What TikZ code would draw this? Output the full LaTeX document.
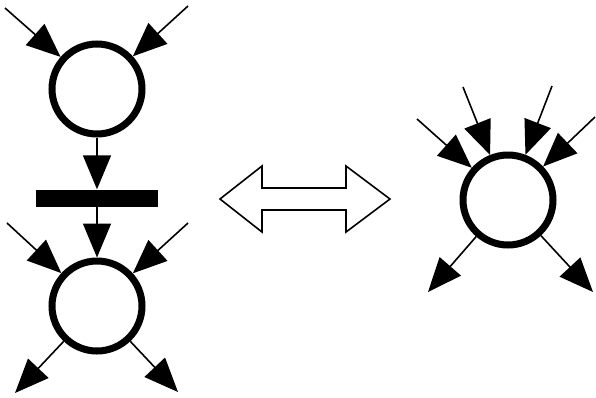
\documentclass[tikz,border=0pt]{standalone}
\usetikzlibrary{arrows.meta}
\tikzset{
  place/.style={circle, draw, line width=7pt, minimum size=90pt, inner sep=0pt, fill=white},
  bar/.style={fill=black, minimum width=122pt, minimum height=17pt, inner sep=0pt},
  arc/.style={line width=1.6pt, -{Triangle[length=34pt,width=28pt]}},
}
\begin{document}
\begin{tikzpicture}[x=1pt,y=-1pt]
\useasboundingbox (0,0) rectangle (596,397);

% Left net: place, transition, place
\node[place] (pin) at (97,89) {};
\node[bar] (tr) at (97,198) {};
\node[place] (pout) at (97,306) {};

\coordinate (a1) at (5,8);
\coordinate (a2) at (188,6);
\coordinate (b1) at (7,223);
\coordinate (b2) at (188,223);
\coordinate (c1) at (15,393);
\coordinate (c2) at (178,392);

\draw[arc] (a1) -- (pin);
\draw[arc] (a2) -- (pin);
\draw[arc] (pin) -- (tr);
\draw[arc] (tr) -- (pout);
\draw[arc] (b1) -- (pout);
\draw[arc] (b2) -- (pout);
\draw[arc] (pout) -- (c1);
\draw[arc] (pout) -- (c2);

% Equivalence arrow
\draw[line width=1.6pt, line join=miter, fill=white]
  (220,199) -- (262,166) -- (262,188) -- (346,188) -- (346,166) -- (390,199)
  -- (346,232) -- (346,210) -- (262,210) -- (262,232) -- cycle;

% Right net: merged place
\node[place] (pm) at (508,200) {};

\coordinate (d1) at (417,119);
\coordinate (d2) at (463,87);
\coordinate (d3) at (552,86);
\coordinate (d4) at (595,117);
\coordinate (e1) at (428,292);
\coordinate (e2) at (593,292);

\draw[arc] (d1) -- (pm);
\draw[arc] (d2) -- (pm);
\draw[arc] (d3) -- (pm);
\draw[arc] (d4) -- (pm);
\draw[arc] (pm) -- (e1);
\draw[arc] (pm) -- (e2);
\end{tikzpicture}
\end{document}
